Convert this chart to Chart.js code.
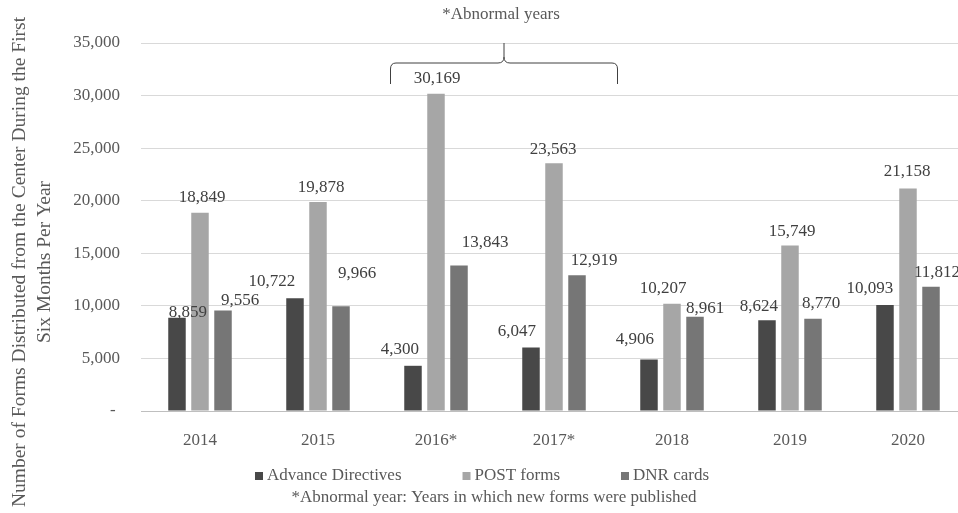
<!DOCTYPE html>
<html>
<head>
<meta charset="utf-8">
<script src="https://cdn.jsdelivr.net/npm/chart.js@4.4.1/dist/chart.umd.min.js"></script>
<style>
html,body{margin:0;padding:0;background:#fff;overflow:hidden;}
#wrap{position:relative;width:975px;height:513px;}
</style>
</head>
<body>
<div id="wrap"><canvas id="c" width="975" height="513"></canvas></div>
<script>
// ---- data ----
const categories = ['2014', '2015', '2016*', '2017*', '2018', '2019', '2020'];
const advanceDirectives = [8859, 10722, 4300, 6047, 4906, 8624, 10093];
const postForms = [18849, 19878, 30169, 23563, 10207, 15749, 21158];
const dnrCards = [9556, 9966, 13843, 12919, 8961, 8770, 11812];
const seriesNames = ['Advance Directives', 'POST forms', 'DNR cards'];
const yTickValues = [0, 5000, 10000, 15000, 20000, 25000, 30000, 35000];
const abnormalCategories = ['2016*', '2017*'];
const topNote = '*Abnormal years';
const footNote = '*Abnormal year: Years in which new forms were published';
const yTitleLines = ['Number of Forms Distributed from the Center During the First', 'Six Months Per Year'];

// ---- styles ----
const FONT = '"Liberation Serif", "Times New Roman", serif';
const colors = ['#484848', '#a6a6a6', '#767676'];
const textColor = '#595959';
const labelColor = '#404040';
// per-label nudges [dx, height above bar top] (manual label placement of the original)
const labelNudge = [
  [[11, 5], [-23, 17], [-13, 16], [-14, 16], [-14, 20], [-8, 14], [-15, 16]],
  [[2, 15], [3, 14.5], [1, 15], [-1, 14], [-9, 15], [2, 14], [-1, 17]],
  [[17, 9.5], [16, 33], [26, 23], [17, 15], [10, 8], [8, 15], [6, 14]]
];

const fmt = v => v.toLocaleString('en-US');

const labelsPlugin = {
  id: 'valueLabels',
  afterDatasetsDraw(chart) {
    const ctx = chart.ctx;
    ctx.save();
    ctx.font = '17px ' + FONT;
    ctx.fillStyle = labelColor;
    ctx.textAlign = 'center';
    ctx.textBaseline = 'middle';
    chart.data.datasets.forEach((ds, di) => {
      const meta = chart.getDatasetMeta(di);
      meta.data.forEach((el, i) => {
        const n = labelNudge[di][i];
        ctx.fillText(fmt(ds.data[i]), el.x + n[0], el.y - n[1]);
      });
    });
    ctx.restore();
  }
};

const decorPlugin = {
  id: 'decor',
  afterDraw(chart) {
    const ctx = chart.ctx;
    const ca = chart.chartArea;
    const xs = chart.scales.x;
    ctx.save();
    // brace over abnormal years
    const i0 = categories.indexOf(abnormalCategories[0]);
    const i1 = categories.indexOf(abnormalCategories[abnormalCategories.length - 1]);
    const L = xs.getPixelForValue(i0) - 46;
    const R = xs.getPixelForValue(i1) + 64;
    const M = (L + R) / 2;
    const top = ca.top, armY = ca.top + 20, endY = ca.top + 41, r = 6;
    ctx.strokeStyle = '#404040';
    ctx.lineWidth = 1;
    ctx.beginPath();
    ctx.moveTo(L + 0.5, endY);
    ctx.lineTo(L + 0.5, armY + r);
    ctx.quadraticCurveTo(L + 0.5, armY, L + r, armY);
    ctx.lineTo(M - r, armY);
    ctx.quadraticCurveTo(M, armY, M, armY - r);
    ctx.lineTo(M, top);
    ctx.moveTo(M, armY - r);
    ctx.quadraticCurveTo(M, armY, M + r, armY);
    ctx.lineTo(R - r, armY);
    ctx.quadraticCurveTo(R - 0.5, armY, R - 0.5, armY + r);
    ctx.lineTo(R - 0.5, endY);
    ctx.stroke();

    // top note
    ctx.font = '17px ' + FONT;
    ctx.fillStyle = textColor;
    ctx.textAlign = 'center';
    ctx.textBaseline = 'middle';
    ctx.fillText(topNote, M - 3, 15);

    // legend
    const gap = 61, box = 8, boxGap = 4;
    const widths = seriesNames.map(s => box + boxGap + ctx.measureText(s).width);
    const total = widths.reduce((a, b) => a + b, 0) + gap * (seriesNames.length - 1);
    let x = 482 - total / 2;
    const ly = 476;
    ctx.textAlign = 'left';
    seriesNames.forEach((s, i) => {
      ctx.fillStyle = colors[i];
      ctx.fillRect(x, ly - box / 2, box, box);
      ctx.fillStyle = textColor;
      ctx.fillText(s, x + box + boxGap, ly);
      x += widths[i] + gap;
    });

    // foot note
    ctx.textAlign = 'center';
    ctx.fillText(footNote, 494, 498);

    // y axis title (two lines)
    ctx.font = '19.5px ' + FONT;
    ctx.translate(0, 262);
    ctx.rotate(-Math.PI / 2);
    ctx.fillText(yTitleLines[0], 0, 20);
    ctx.fillText(yTitleLines[1], 0, 45);
    ctx.restore();
  }
};

new Chart(document.getElementById('c'), {
  type: 'bar',
  data: {
    labels: categories,
    datasets: [
      { label: seriesNames[0], data: advanceDirectives, backgroundColor: colors[0] },
      { label: seriesNames[1], data: postForms, backgroundColor: colors[1] },
      { label: seriesNames[2], data: dnrCards, backgroundColor: colors[2] }
    ]
  },
  options: {
    responsive: false,
    devicePixelRatio: 1,
    animation: false,
    layout: { padding: { top: 43, right: 8, left: 0, bottom: 0 } },
    datasets: { bar: { barPercentage: 0.76, categoryPercentage: 0.585 } },
    plugins: { legend: { display: false }, tooltip: { enabled: false }, title: { display: false } },
    scales: {
      x: {
        grid: { display: false },
        border: { display: true, color: '#bfbfbf' },
        ticks: { color: textColor, font: { family: FONT, size: 17 }, padding: 11 },
        afterFit(s) { s.height = 102; }
      },
      y: {
        min: 0, max: 35000,
        afterBuildTicks(s) { s.ticks = yTickValues.map(v => ({ value: v })); },
        grid: {
          drawTicks: false,
          color: c => (c.tick && c.tick.value === 0) ? '#bfbfbf' : '#d9d9d9'
        },
        border: { display: false },
        ticks: {
          color: textColor, font: { family: FONT, size: 17 }, padding: 21,
          callback: v => v === 0 ? '- ' : fmt(v)
        },
        afterFit(s) { s.width = 141; }
      }
    }
  },
  plugins: [labelsPlugin, decorPlugin]
});
</script>
</body>
</html>
